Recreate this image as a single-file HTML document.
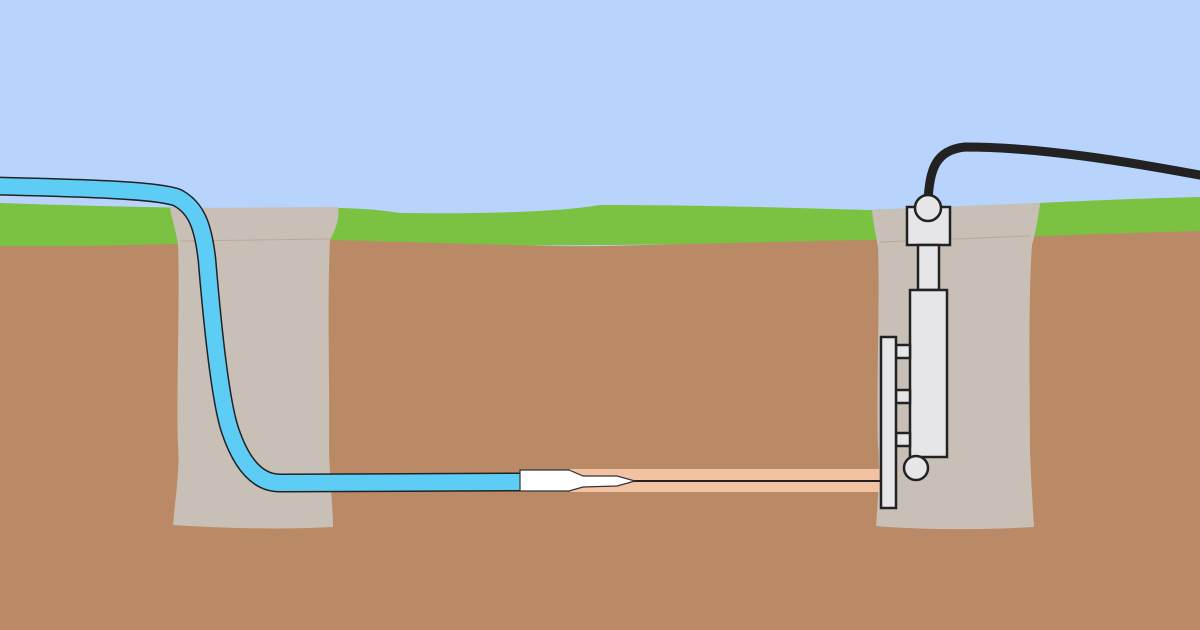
<!DOCTYPE html>
<html><head><style>html,body{margin:0;padding:0;background:#b8d4fc}svg{display:block}</style></head>
<body>
<svg width="1200" height="630" viewBox="0 0 1200 630" xmlns="http://www.w3.org/2000/svg">
<rect width="1200" height="630" fill="#b8d4fc"/>
<!-- grass -->
<path d="M0,203 C60,205 130,207 200,208 L330,208 C360,208 380,210 400,213 C480,214 560,212 600,205 C700,205 800,208 870,210 L1040,203 C1100,200 1160,198 1200,197 L1200,240 L0,250 Z" fill="#7bc142"/>
<!-- dirt -->
<path d="M0,246 C100,247 200,243 330,240 C450,243 550,247 600,246 C700,244 800,241 870,240 L1040,236 C1100,234 1160,232 1200,231 L1200,630 L0,630 Z" fill="#b98a65"/>
<!-- pits -->
<path d="M170,208 L338,207 C340,220 335,230 330,240 C327,300 330,400 329,450 C330,480 333,510 333,527 C280,530 220,528 173,525 C175,500 180,470 178,445 C176,400 180,300 178,245 C176,230 172,220 170,208 Z" fill="#c8bfb6"/>
<path d="M872,210 L1040,203 C1038,220 1035,235 1032,245 C1028,300 1030,400 1030,450 C1031,480 1033,510 1034,527 C980,530 920,530 876,526 C878,500 880,470 878,445 C876,400 880,300 878,248 C876,235 873,222 872,210 Z" fill="#c8bfb6"/>
<path d="M180,241 L330,239" stroke="#bba998" stroke-width="1"/>
<path d="M880,242 L1030,236" stroke="#bba998" stroke-width="1"/>
<!-- salmon bore -->
<rect x="570" y="469" width="312" height="23" fill="#f2c3a3"/>
<!-- blue hose -->
<path d="M-5,186 C80,188 160,190 178,198 C196,208 203,225 207,260 C212,320 220,400 230,430 C240,460 255,483 280,483 L522,482" fill="none" stroke="#222" stroke-width="19"/>
<path d="M-5,186 C80,188 160,190 178,198 C196,208 203,225 207,260 C212,320 220,400 230,430 C240,460 255,483 280,483 L522,482" fill="none" stroke="#5ecdf6" stroke-width="16"/>
<!-- tool -->
<line x1="630" y1="481" x2="884" y2="481" stroke="#222" stroke-width="2"/>
<path d="M520,470 L569,470 L583,476 L617,476 L635,481 L617,486 L583,487 L569,491 L520,491 Z" fill="#fff" stroke="#333" stroke-width="1.2"/>
<!-- black cable -->
<path d="M928,200 C930,170 935,150 965,147 C1040,147 1130,162 1205,176" fill="none" stroke="#222" stroke-width="9"/>
<!-- device -->
<g fill="#e6e6e8" stroke="#222" stroke-width="2.5">
<rect x="907" y="207" width="43" height="38"/>
<rect x="918" y="245" width="21" height="45"/>
<rect x="910" y="290" width="37" height="167"/>
<rect x="896" y="345" width="14" height="13"/>
<rect x="896" y="390" width="14" height="13"/>
<rect x="896" y="433" width="14" height="13"/>
<circle cx="928" cy="208" r="13"/>
<circle cx="916" cy="468" r="12"/>
<rect x="881" y="337" width="15" height="171"/>
</g>
</svg>
</body></html>
